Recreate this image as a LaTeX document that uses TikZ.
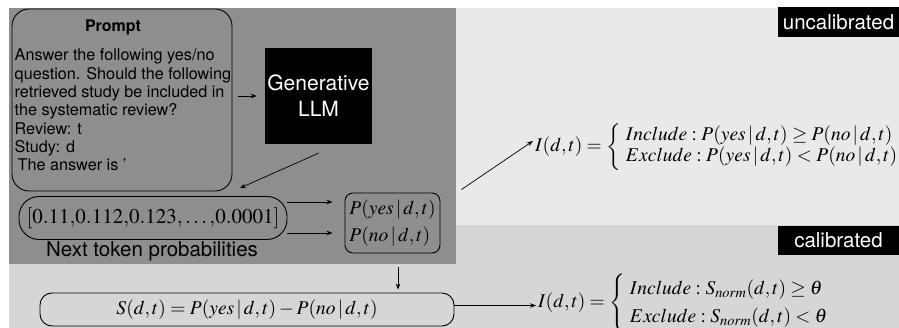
\documentclass[tikz,border=0pt]{standalone}
\usepackage{mathptmx}
\usepackage[no-math]{fontspec}
\setmainfont{TeX Gyre Heros}
\usetikzlibrary{arrows.meta}
\definecolor{darkbg}{HTML}{8E8E8E}
\definecolor{lightbg}{HTML}{E9E9E9}
\definecolor{midbg}{HTML}{D6D6D6}
\tikzset{
  rbox/.style={draw=black, line width=0.9pt, inner sep=0pt},
  ptitle/.style={anchor=base, inner sep=0pt, font=\fontsize{16}{18}\selectfont\bfseries},
  pline/.style={anchor=base west, inner sep=0pt, font=\fontsize{16.2}{18}\selectfont},
  llmbox/.style={fill=black, text=white, minimum width=107pt, minimum height=96pt, align=center, inner sep=0pt,
    font=\fontsize{21}{26}\selectfont},
  mfont/.style={font=\fontsize{19.5}{24}\selectfont},
  tag/.style={fill=black, text=white, inner sep=0pt, minimum width=121pt, font=\fontsize{20.5}{24}\selectfont},
  arr/.style={-{Stealth[length=6pt,width=4.5pt]}, line width=0.7pt},
}
\begin{document}
\begin{tikzpicture}[x=1pt,y=-1pt]
\useasboundingbox (0,0) rectangle (899,328);
% backgrounds
\fill[midbg] (9,225) rectangle (899,328);
\fill[lightbg] (456,8) rectangle (899,225);
\fill[darkbg] (9,8) rectangle (456,264);

% prompt
\node[rbox, rounded corners=17pt, minimum width=220pt, minimum height=182pt] (prompt) at (122,100) {};
\node[ptitle] (ptitle) at (113,32) {Prompt};
\node[pline] (l1) at (14.5,61) {Answer the following yes/no};
\node[pline] (l2) at (14.5,79.3) {question. Should the following};
\node[pline] (l3) at (14.5,97.6) {retrieved study be included in};
\node[pline] (l4) at (14.5,115.9) {the systematic review?};
\node[pline] (l5) at (14.5,134.2) {Review: t};
\node[pline] (l6) at (14.5,152.5) {Study: d};
\node[pline] (l7) at (17.5,170.8) {The answer is '};

% LLM
\node[llmbox] (llm) at (318.5,96) {Generative\\LLM};
\draw[arr, shorten <=6pt, shorten >=8pt] (prompt.east |- llm.west) -- (llm.west);

% vector
\node[rbox, rounded corners=20pt, minimum width=268pt, minimum height=43pt,
  font=\fontsize{21}{24}\selectfont] (vec) at (153,218) {$[0.11{,}0.112{,}0.123{,}\ldots{,}0.0001]$};
\node[anchor=base, inner sep=0pt, font=\fontsize{20.5}{24}\selectfont] (ntp) at (152,257) {Next token probabilities};
\draw[arr] ([yshift=-9pt]llm.south) -- ([shift={(87pt,8pt)}]vec.north);

% P box
\node[rbox, rounded corners=8pt, minimum width=95pt, minimum height=60pt, align=left,
  font=\fontsize{19.5}{27}\selectfont] (pbox) at (392.5,223) {$P(yes\,|\,d,t)$\\$P(no\,|\,d,t)$};
\draw[arr, shorten >=12pt] ([yshift=16pt]vec.east) -- ([yshift=16pt]vec.east -| pbox.west);
\draw[arr, shorten >=12pt] ([yshift=-15pt]vec.east) -- ([yshift=-15pt]vec.east -| pbox.west);

% upper formula
\node[anchor=west, inner sep=0pt, mfont] (iu) at (535,147)
  {$I(d,t) = \left\{\renewcommand{\arraystretch}{0.85}\begin{array}{l}
   Include : P(yes\,|\,d,t) \geq P(no\,|\,d,t)\\
   Exclude : P(yes\,|\,d,t) < P(no\,|\,d,t)\end{array}\right.$};
\draw[arr] ([shift={(21pt,3pt)}]pbox.north east) -- ([shift={(-2pt,6pt)}]iu.west);

% S box
\node[rbox, rounded corners=12pt, minimum width=414pt, minimum height=33pt, mfont] (sbox) at (247,309.5)
  {$S(d,t) = P(yes\,|\,d,t) - P(no\,|\,d,t)$};
\draw[arr, shorten <=14pt, shorten >=3pt] ([xshift=5.5pt]pbox.south) -- ([xshift=5.5pt]pbox.south |- sbox.north);

% lower formula
\node[anchor=west, inner sep=0pt, mfont] (il) at (538,303)
  {$I(d,t) = \left\{\renewcommand{\arraystretch}{1.15}\begin{array}{l}
   Include : S_{norm}(d,t) \geq \theta\\
   Exclude : S_{norm}(d,t) < \theta\end{array}\right.$};
\draw[arr, shorten >=2pt] ([yshift=4pt]sbox.east) -- ([yshift=4pt]sbox.east -| il.west);

% tags
\node[tag, minimum height=30pt] (unc) at (838.5,22) {uncalibrated};
\node[tag, minimum height=29pt] (cal) at (838.5,240.5) {calibrated};
\end{tikzpicture}
\end{document}
